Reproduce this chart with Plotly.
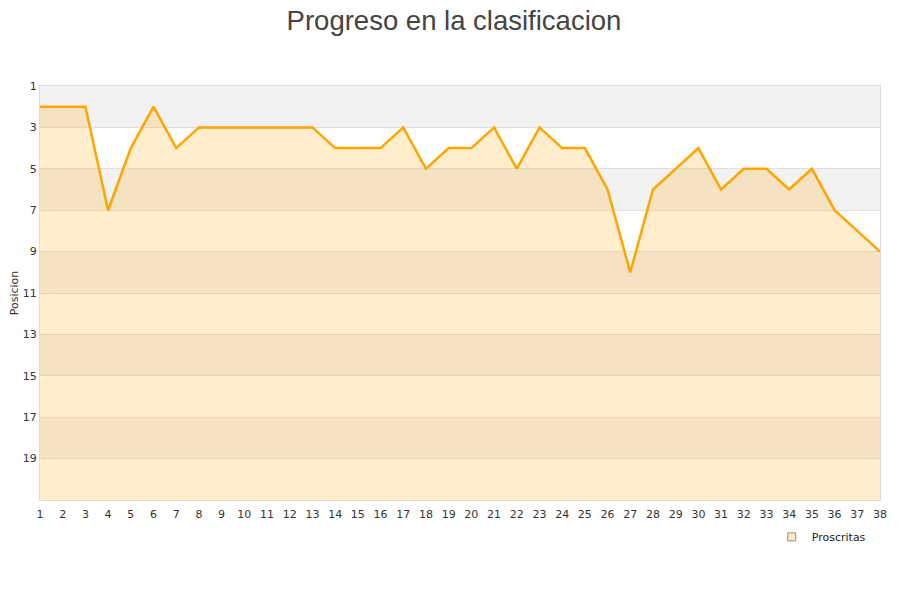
import plotly.graph_objects as go

jornadas = list(range(1, 39))
posiciones = [2, 2, 2, 7, 4, 2, 4, 3, 3, 3, 3, 3, 3, 4, 4, 4, 3, 5, 4, 4,
              3, 5, 3, 4, 4, 6, 10, 6, 5, 4, 6, 5, 5, 6, 5, 7, 8, 9]
y_ticks = list(range(1, 21, 2))
serie = "Proscritas"
fondo = 21

fig = go.Figure()
fig.add_trace(go.Scatter(x=jornadas, y=[fondo] * len(jornadas), mode="lines",
                         line=dict(width=0), showlegend=False, hoverinfo="skip"))
fig.add_trace(go.Scatter(x=jornadas, y=posiciones, mode="lines", fill="tonexty",
                         fillcolor="rgba(255,165,0,0.2)",
                         line=dict(color="#FFA500", width=2.5), showlegend=False))
fig.add_trace(go.Scatter(x=[None], y=[None], mode="markers", name=serie,
                         marker=dict(symbol="square", size=8, color="#fdebcb",
                                     line=dict(color="#9c8a6a", width=1))))

shapes = []
for start in range(1, 21, 4):
    shapes.append(dict(type="rect", xref="paper", x0=0, x1=1, yref="y",
                       y0=start, y1=start + 2, fillcolor="#f2f2f2",
                       line=dict(width=0), layer="below"))
fig.update_layout(shapes=shapes)

fig.update_layout(
    width=892, height=592,
    margin=dict(l=32, r=20, t=78, b=100, autoexpand=False),
    paper_bgcolor="white", plot_bgcolor="white",
    font=dict(family="DejaVu Sans", size=11, color="#333"),
    title=dict(text="Progreso en la clasificacion", x=0.5, xanchor="center",
               y=0.979, yanchor="middle",
               font=dict(family="Liberation Sans", size=27.5, color="#444")),
    xaxis=dict(range=[1, 38], tickmode="array", tickvals=jornadas, automargin=False,
               showgrid=False, zeroline=False, showline=True, linecolor="#dcdcdc",
               mirror=True, ticks="", ticklabelstandoff=4,
               tickfont=dict(size=11, color="#333")),
    yaxis=dict(range=[21, 1], tickmode="array", tickvals=y_ticks, automargin=False,
               showgrid=True, gridcolor="#e0e0e0", gridwidth=1, zeroline=False,
               showline=True, linecolor="#dcdcdc", mirror=True, ticks="",
               title=dict(text="Posicion", font=dict(size=11, color="#333"), standoff=8),
               tickfont=dict(size=11, color="#333")),
    legend=dict(x=0.989, y=-0.089, xanchor="right", yanchor="middle",
                bgcolor="rgba(0,0,0,0)", font=dict(size=11, color="#222"),
                itemwidth=30),
    showlegend=True,
)

fig.write_html("out.html")
